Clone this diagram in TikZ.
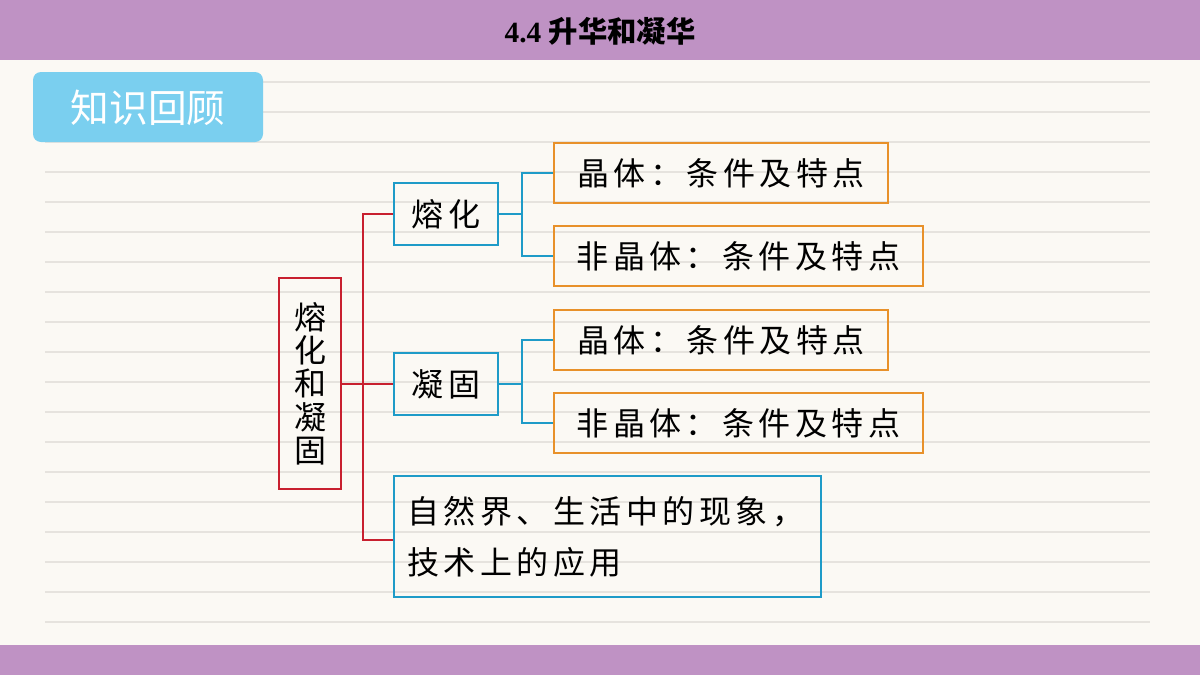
\documentclass[tikz,border=0pt]{standalone}
\usepackage{fontspec}
\newfontfamily\cjk[LetterSpace=14]{Noto Sans CJK SC}
\newfontfamily\cjkn{Noto Sans CJK SC}
\setmainfont{Liberation Serif}
\definecolor{purp}{HTML}{BF92C4}
\definecolor{cream}{HTML}{FBF9F4}
\definecolor{rule}{HTML}{E6E3DE}
\definecolor{sky}{HTML}{7ACFEF}
\definecolor{myred}{HTML}{C8202F}
\definecolor{myblue}{HTML}{1E9BC8}
\definecolor{myorange}{HTML}{E8912A}
\tikzset{
 bx/.style={draw=#1, line width=1.5pt, inner xsep=13pt, inner ysep=0pt, anchor=north west, align=left, text=black, font=\cjk\fontsize{24}{32}\selectfont},
 redl/.style={myred, line width=1.5pt},
 bluel/.style={myblue, line width=1.5pt}
}
\begin{document}
\begin{tikzpicture}[x=0.75pt,y=-0.75pt]
\useasboundingbox (0,0) rectangle (1200,675);
\fill[cream] (0,0) rectangle (1200,675);
\foreach \y in {82,112,...,622} \draw[rule, line width=0.8pt] (45,\y) -- (1150,\y);
\fill[purp] (0,0) rectangle (1200,60);
\fill[purp] (0,645) rectangle (1200,675);
\node (title) at (600,31) {\bfseries\fontsize{22}{26}\selectfont 4.4 {\cjkn 升华和凝华}};
\fill[sky, rounded corners=6pt] (33,72) rectangle (263,142);
\node[white] (zs) at (148,108) {\cjkn\fontsize{29}{32}\selectfont 知识回顾};
% boxes
\node[draw=myred, line width=1.5pt, anchor=north west, minimum width=62*0.75pt, minimum height=211*0.75pt] (main) at (278,277) {};
\node[font=\cjkn\fontsize{24}{27}\selectfont, align=center, text=black] at (main.center) {熔\\[-2pt]化\\[-2pt]和\\[-2pt]凝\\[-2pt]固};
\node[bx=myblue, minimum width=104*0.75pt, minimum height=62*0.75pt, inner xsep=8pt] (rh) at (393,182) {熔化};
\node[bx=myblue, minimum height=62*0.75pt, inner xsep=8pt, minimum width=104*0.75pt] (ng) at (393,352) {凝固};
\node[bx=myblue, minimum width=423*0.75pt, minimum height=121*0.75pt, inner xsep=10pt, text width=400*0.75pt] (zr) at (393,475) {自然界、生活中的现象，\\[6pt]技术上的应用};
\node[bx=myorange, minimum width=334*0.75pt, minimum height=60*0.75pt] (a1) at (553,142) {晶体：条件及特点};
\node[bx=myorange, minimum width=369*0.75pt, minimum height=60*0.75pt] (a2) at (553,225) {非晶体：条件及特点};
\node[bx=myorange, minimum width=334*0.75pt, minimum height=60*0.75pt] (b1) at (553,309) {晶体：条件及特点};
\node[bx=myorange, minimum width=369*0.75pt, minimum height=60*0.75pt] (b2) at (553,392) {非晶体：条件及特点};
% connectors
\coordinate (zw) at (393,540);
\draw[redl] (ng.west) -- (main.east |- ng.west);
\draw[redl] (rh.west) -| (363,383) |- (zw);
\draw[bluel] (rh.east) -- (rh.east -| 522,0);
\draw[bluel] (a1.west) -| (522,213) |- (a2.west);
\draw[bluel] (ng.east) -- (ng.east -| 522,0);
\draw[bluel] (b1.west) -| (522,383) |- (b2.west);
\end{tikzpicture}
\end{document}
